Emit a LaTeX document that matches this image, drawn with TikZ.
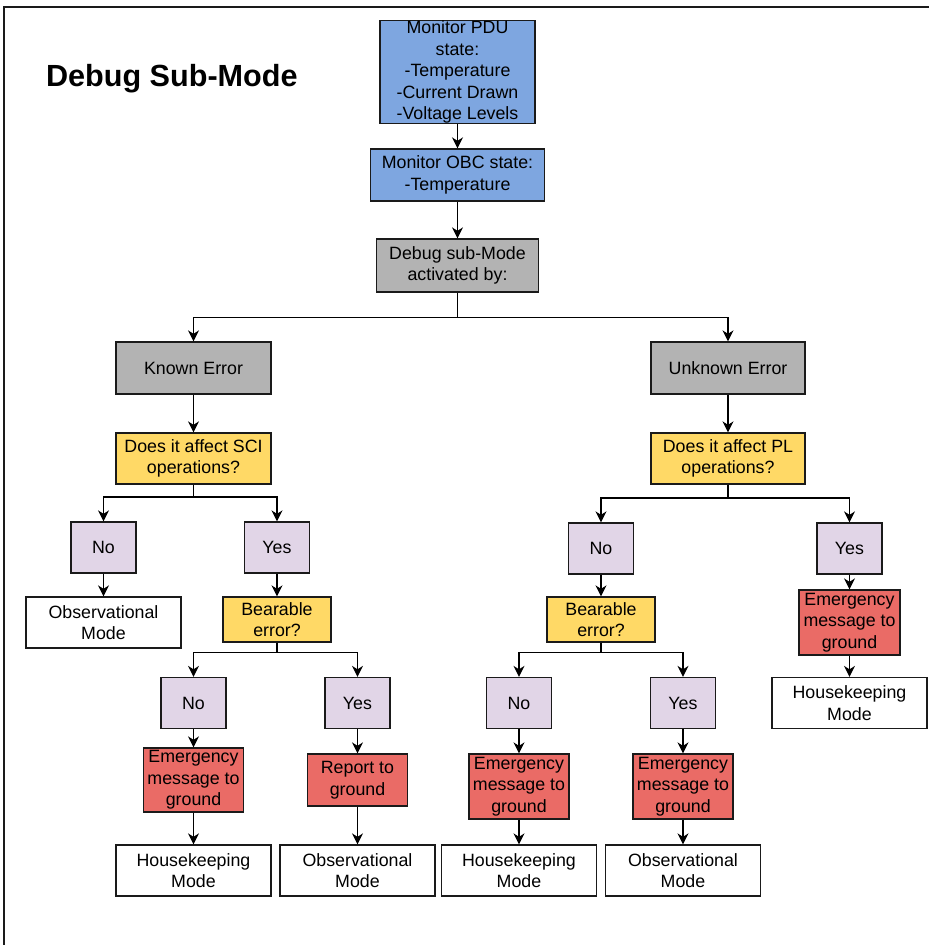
\documentclass[tikz,border=0pt]{standalone}
\usepackage{fontspec}
\setmainfont{Liberation Sans}
\usetikzlibrary{arrows.meta}
\definecolor{cblue}{HTML}{7EA6E0}
\definecolor{cgray}{HTML}{B3B3B3}
\definecolor{cyel}{HTML}{FFD966}
\definecolor{clav}{HTML}{E1D5E7}
\definecolor{cred}{HTML}{EA6B66}
\definecolor{cline}{HTML}{1A1A1A}
\tikzset{
  box/.style={draw=cline, line width=1.3pt, inner sep=0pt, align=center,
    font=\fontsize{17.8}{21.6}\selectfont},
  bluebox/.style={box, fill=cblue},
  graybox/.style={box, fill=cgray},
  yelbox/.style={box, fill=cyel},
  lavbox/.style={box, fill=clav, minimum width=65pt, minimum height=51pt},
  redbox/.style={box, fill=cred},
  whitebox/.style={box, fill=white, minimum width=155pt, minimum height=51pt},
  conn/.style={draw=black, line width=1.4pt, -{Stealth[length=11pt,width=11pt,inset=3.5pt]}},
}
\begin{document}
\begin{tikzpicture}[x=1pt,y=-1pt]
\useasboundingbox (0,0) rectangle (929,945);
\draw[draw=cline, line width=1.3pt] (4,945) -- (4,7) -- (929,7);
\node[anchor=west, font=\fontsize{30.6}{35}\selectfont\bfseries] (title) at (42.5,79) {Debug Sub-Mode};

% top column
\node[bluebox, minimum width=155pt, minimum height=102pt] (pdu) at (457.5,72) {Monitor PDU\\state:\\-Temperature\\-Current Drawn\\-Voltage Levels};
\node[bluebox, minimum width=174pt, minimum height=52pt] (obc) at (457.5,175) {Monitor OBC state:\\-Temperature};
\node[graybox, minimum width=162pt, minimum height=53pt] (dbg) at (457.5,265.5) {Debug sub-Mode\\activated by:};

\node[graybox, minimum width=155pt, minimum height=52pt] (known) at (193.5,368) {Known Error};
\node[graybox, minimum width=154pt, minimum height=52pt] (unknown) at (728,368) {Unknown Error};

\node[yelbox, minimum width=155pt, minimum height=51pt] (sci) at (193.5,458.5) {Does it affect SCI\\operations?};
\node[yelbox, minimum width=154pt, minimum height=51pt] (pl) at (728,458.5) {Does it affect PL\\operations?};

% left branch
\node[lavbox] (no1) at (103.5,547.5) {No};
\node[lavbox] (yes1) at (277,547.5) {Yes};
\node[whitebox] (obs1) at (103.5,622.5) {Observational\\Mode};
\node[yelbox, minimum width=108pt, minimum height=45pt] (bear1) at (277,619.5) {Bearable\\error?};
\node[lavbox] (no2) at (193.5,703) {No};
\node[lavbox] (yes2) at (357.5,703) {Yes};
\node[redbox, minimum width=100pt, minimum height=64pt] (em1) at (193.5,780) {Emergency\\message to\\ground};
\node[redbox, minimum width=100pt, minimum height=52pt] (rep) at (357.5,780) {Report to\\ground};
\node[whitebox] (hk1) at (193.5,870.5) {Housekeeping\\Mode};
\node[whitebox] (obs2) at (357.5,870.5) {Observational\\Mode};

% right branch
\node[lavbox] (no3) at (601,548.5) {No};
\node[lavbox] (yes3) at (849.5,548.5) {Yes};
\node[yelbox, minimum width=108pt, minimum height=45pt] (bear2) at (601,619.5) {Bearable\\error?};
\node[redbox, minimum width=101pt, minimum height=65pt] (em3) at (849.5,622.5) {Emergency\\message to\\ground};
\node[whitebox] (hk3) at (849.5,703) {Housekeeping\\Mode};
\node[lavbox] (no4) at (519,703) {No};
\node[lavbox] (yes4) at (683,703) {Yes};
\node[redbox, minimum width=100pt, minimum height=65pt] (em4) at (519,786.5) {Emergency\\message to\\ground};
\node[redbox, minimum width=100pt, minimum height=65pt] (em5) at (683,786.5) {Emergency\\message to\\ground};
\node[whitebox] (hk2) at (519,870.5) {Housekeeping\\Mode};
\node[whitebox] (obs3) at (683,870.5) {Observational\\Mode};

% connectors
\draw[conn] (pdu) -- (obc);
\draw[conn] (obc) -- (dbg);
\draw[conn] (dbg.south) -- ++(0,25) -| (known.north);
\draw[conn] (dbg.south) -- ++(0,25) -| (unknown.north);
\draw[conn] (known) -- (sci);
\draw[conn] (unknown) -- (pl);

\draw[conn] (sci.south) -- ++(0,12.5) -| (no1.north);
\draw[conn] (sci.south) -- ++(0,12.5) -| (yes1.north);
\draw[conn] (no1) -- (obs1);
\draw[conn] (yes1) -- (bear1);
\draw[conn] (bear1.south) -- ++(0,10) -| (no2.north);
\draw[conn] (bear1.south) -- ++(0,10) -| (yes2.north);
\draw[conn] (no2) -- (em1);
\draw[conn] (yes2) -- (rep);
\draw[conn] (em1) -- (hk1);
\draw[conn] (rep) -- (obs2);

\draw[conn] (pl.south) -- ++(0,13.5) -| (no3.north);
\draw[conn] (pl.south) -- ++(0,13.5) -| (yes3.north);
\draw[conn] (no3) -- (bear2);
\draw[conn] (yes3) -- (em3);
\draw[conn] (em3) -- (hk3);
\draw[conn] (bear2.south) -- ++(0,10) -| (no4.north);
\draw[conn] (bear2.south) -- ++(0,10) -| (yes4.north);
\draw[conn] (no4) -- (em4);
\draw[conn] (yes4) -- (em5);
\draw[conn] (em4) -- (hk2);
\draw[conn] (em5) -- (obs3);
\end{tikzpicture}
\end{document}
